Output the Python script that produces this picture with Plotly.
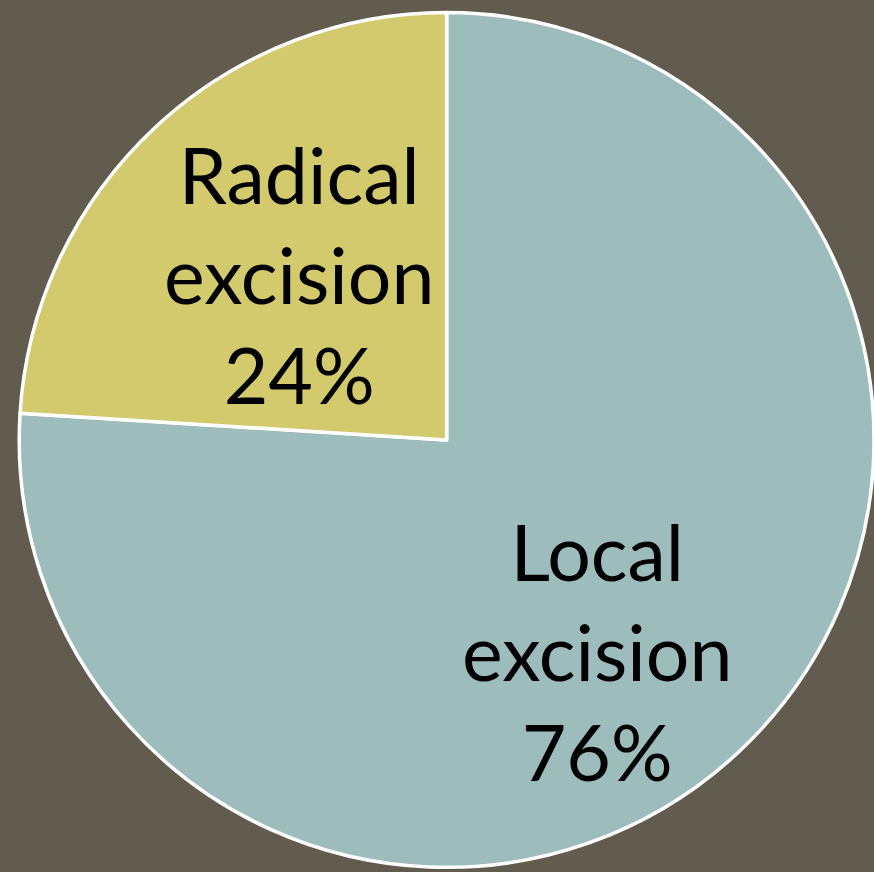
import plotly.graph_objects as go

# Share of surgical approach
labels = ["Local excision", "Radical excision"]
shares = [76, 24]
label_lines = ["Local<br>excision", "Radical<br>excision"]

slice_colors = ["#9dbdbd", "#d2ca6d"]
background = "#625c4e"

fig = go.Figure(
    go.Pie(
        labels=labels,
        values=shares,
        sort=False,
        direction="clockwise",
        rotation=0,
        textinfo="none",
        hoverinfo="label+percent",
        marker=dict(colors=slice_colors, line=dict(color="white", width=3.5)),
        domain=dict(x=[0.022, 1.0], y=[0.0052, 0.9857]),
        showlegend=False,
    )
)

# Slice labels: name plus percentage, placed inside each slice
label_pos = [(0.683, 0.254), (0.342, 0.686)]
for text, value, (x, y) in zip(label_lines, shares, label_pos):
    fig.add_annotation(
        x=x, y=y, xref="paper", yref="paper",
        text=f"{text}<br>{value}%",
        showarrow=False,
        xanchor="center", yanchor="middle",
        align="center",
        font=dict(family="Lato", size=77, color="black"),
    )

fig.update_layout(
    width=874,
    height=872,
    margin=dict(l=0, r=0, t=0, b=0),
    paper_bgcolor=background,
    plot_bgcolor=background,
)

fig.write_html("out.html")
